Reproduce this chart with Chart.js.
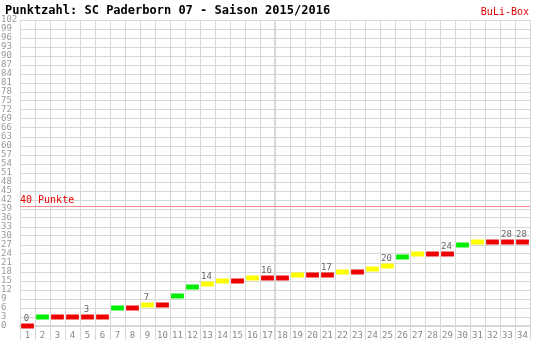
<!DOCTYPE html>
<html>
<head>
<meta charset="utf-8">
<title>Punktzahl: SC Paderborn 07 - Saison 2015/2016</title>
<script src="https://cdn.jsdelivr.net/npm/chart.js@4"></script>
<style>
body { margin: 0; background: #fff; }
</style>
</head>
<body>
<canvas id="pointsChart" width="551" height="340"></canvas>
<script>
// Spieltage, Punkte nach jedem Spieltag, Ergebnis (S = Sieg, U = Unentschieden, N = Niederlage)
const matchdays = [1,2,3,4,5,6,7,8,9,10,11,12,13,14,15,16,17,18,19,20,21,22,23,24,25,26,27,28,29,30,31,32,33,34];
const points = [0,3,3,3,3,3,6,6,7,7,10,13,14,15,15,16,16,16,17,17,17,18,18,19,20,23,24,24,24,27,28,28,28,28];
const results = ['N','S','N','N','N','N','S','N','U','N','S','S','U','U','N','U','N','N','U','N','N','U','N','U','U','S','U','N','N','S','U','N','N','N'];
const labelDays = [1,5,9,13,17,21,25,29,33,34];
const targetPoints = 40;

const resultColors = { S: '#00ee00', U: '#ffff00', N: '#ee0000' };
const gridColor = '#d8d8d8';
const barHalf = 0.83;

Chart.defaults.font.family = '"DejaVu Sans Mono", monospace';

const overlay = {
  id: 'overlay',
  afterDatasetsDraw(chart) {
    const { ctx, chartArea, scales: { x, y } } = chart;
    ctx.save();

    // 40-Punkte-Linie
    const y40 = Math.round(y.getPixelForValue(targetPoints)) + 0.5;
    ctx.strokeStyle = '#ff8a8a';
    ctx.lineWidth = 1;
    ctx.beginPath();
    ctx.moveTo(chartArea.left, y40);
    ctx.lineTo(chartArea.right, y40);
    ctx.stroke();
    ctx.fillStyle = '#ee0000';
    ctx.font = '10px "DejaVu Sans Mono"';
    ctx.textAlign = 'left';
    ctx.textBaseline = 'alphabetic';
    ctx.fillText(targetPoints + ' Punkte', chartArea.left, y40 - 3.5);

    // Punktzahlen über einzelnen Spieltagen
    ctx.fillStyle = '#666';
    ctx.font = '9px "DejaVu Sans Mono"';
    ctx.textAlign = 'center';
    labelDays.forEach(day => {
      const i = matchdays.indexOf(day);
      const px = x.getPixelForValue(i);
      const py = y.getPixelForValue(points[i] + barHalf) - 3;
      ctx.fillText(String(points[i]), px - 1, py);
    });

    // Titel
    ctx.fillStyle = '#000';
    ctx.font = 'bold 12px "DejaVu Sans Mono"';
    ctx.textAlign = 'left';
    ctx.fillText('Punktzahl: SC Paderborn 07 - Saison 2015/2016', 5, 14);
    ctx.fillStyle = '#dd0000';
    ctx.font = '10px "DejaVu Sans Mono"';
    ctx.textAlign = 'right';
    ctx.fillText('BuLi-Box', 529, 15);

    ctx.restore();
  }
};

new Chart(document.getElementById('pointsChart'), {
  type: 'bar',
  data: {
    labels: matchdays,
    datasets: [{
      data: points.map(v => [v - barHalf, v + barHalf]),
      backgroundColor: results.map(r => resultColors[r]),
      borderWidth: 0,
      barPercentage: 0.85,
      categoryPercentage: 1,
      clip: false
    }]
  },
  options: {
    responsive: false,
    animation: false,
    layout: { padding: { top: 20, right: 21, left: 1, bottom: 0 } },
    plugins: {
      legend: { display: false },
      tooltip: { enabled: false }
    },
    scales: {
      x: {
        offset: true,
        grid: {
          offset: true,
          color: gridColor,
          lineWidth: ctx => ctx.index === 17 ? 2 : 1,
          tickLength: 14
        },
        border: { color: gridColor, width: 2 },
        ticks: {
          color: '#888',
          font: { size: 9 },
          padding: -10,
          maxRotation: 0,
          autoSkip: false
        },
        afterFit: s => { s.height = 14; }
      },
      y: {
        min: 0,
        max: 102,
        grid: {
          color: gridColor,
          drawTicks: false
        },
        border: { color: gridColor },
        ticks: {
          stepSize: 3,
          autoSkip: false,
          color: '#999',
          font: { size: 9 },
          crossAlign: 'far',
          padding: 1
        },
        afterFit: s => { s.width = 19; }
      }
    }
  },
  plugins: [overlay]
});
</script>
</body>
</html>
